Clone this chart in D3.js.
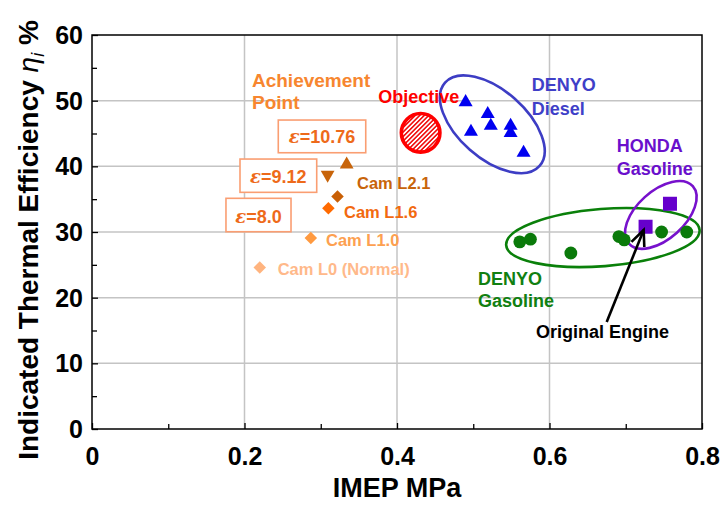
<!DOCTYPE html>
<html>
<head>
<meta charset="utf-8">
<script src="https://cdn.jsdelivr.net/npm/d3@7"></script>
<style>
  html, body { margin: 0; padding: 0; background: #fff; }
  svg { display: block; font-family: "Liberation Sans", Arial, sans-serif; font-weight: bold; }
</style>
</head>
<body>
<svg id="chart" width="722" height="507"></svg>
<script>
// ---- axis ticks ----
const xTicks = [0, 0.2, 0.4, 0.6, 0.8];
const xMinorTicks = [0.1, 0.3, 0.5, 0.7];
const yTicks = [0, 10, 20, 30, 40, 50, 60];
const yMinorTicks = [5, 15, 25, 35, 45, 55];

// ---- achievement points (cam lift / compression ratio variants) ----
const camNames = ["Cam L0 (Normal)", "Cam L1.0", "Cam L1.6", "Cam L2.1", "Cam L2.1", "Cam L2.1"];
const camImep  = [0.220, 0.287, 0.310, 0.322, 0.309, 0.334];
const camEff   = [24.6, 29.1, 33.6, 35.4, 38.5, 40.5];
const compressionRatios = ["10.76", "9.12", "8.0"];

// ---- objective ----
const objectiveImep = [0.431];
const objectiveEff  = [45.1];

// ---- DENYO diesel ----
const dieselImep = [0.490, 0.519, 0.497, 0.523, 0.549, 0.549, 0.566];
const dieselEff  = [50.0, 48.2, 45.5, 46.4, 46.4, 45.3, 42.3];

// ---- DENYO gasoline ----
const denyoGasImep = [0.561, 0.575, 0.628, 0.691, 0.698, 0.747, 0.780];
const denyoGasEff  = [28.5, 28.9, 26.8, 29.3, 28.8, 30.0, 30.0];

// ---- HONDA gasoline ----
const hondaImep = [0.726, 0.758];
const hondaEff  = [30.8, 34.3];

// ---- layout ----
const plotLeft = 92, plotRight = 702, plotTop = 35, plotBottom = 429;

const svg = d3.select("#chart");
const x = d3.scaleLinear().domain([0, 0.8]).range([plotLeft, plotRight]);
const y = d3.scaleLinear().domain([0, 60]).range([plotBottom, plotTop]);

// hatch fill for the objective circle
const defs = svg.append("defs");
const pat = defs.append("pattern")
  .attr("id", "hatch").attr("patternUnits", "userSpaceOnUse")
  .attr("width", 3.2).attr("height", 3.2)
  .attr("patternTransform", "rotate(45)");
pat.append("rect").attr("width", 3.2).attr("height", 3.2).attr("fill", "#fff");
pat.append("line").attr("x1", 0.8).attr("y1", 0).attr("x2", 0.8).attr("y2", 3.2)
  .attr("stroke", "#f01010").attr("stroke-width", 1.6);

// ---- grid ----
const grid = svg.append("g").attr("stroke", "#c4c4c4").attr("stroke-width", 1.5);
grid.selectAll("line.h").data(yTicks.filter(v => v > 0 && v < 60)).join("line")
  .attr("x1", plotLeft).attr("x2", plotRight).attr("y1", d => y(d)).attr("y2", d => y(d));
grid.selectAll("line.v").data(xTicks.filter(v => v > 0 && v < 0.8)).join("line")
  .attr("y1", plotTop).attr("y2", plotBottom).attr("x1", d => x(d)).attr("x2", d => x(d));

// ---- axes (ticks pointing inward) ----
const xAxis = svg.append("g").attr("transform", `translate(0,${plotBottom})`)
  .call(d3.axisBottom(x).tickValues(xTicks).tickSize(-6).tickPadding(18)
    .tickFormat(d => d === 0 ? "0" : d3.format(".1f")(d)));
svg.append("g").attr("transform", `translate(0,${plotBottom})`)
  .call(d3.axisBottom(x).tickValues(xMinorTicks).tickSize(-5).tickFormat(""))
  .call(g => g.select(".domain").remove());
const yAxis = svg.append("g").attr("transform", `translate(${plotLeft},0)`)
  .call(d3.axisLeft(y).tickValues(yTicks).tickSize(-6).tickPadding(9));
svg.append("g").attr("transform", `translate(${plotLeft},0)`)
  .call(d3.axisLeft(y).tickValues(yMinorTicks).tickSize(-5).tickFormat(""))
  .call(g => g.select(".domain").remove());

svg.selectAll(".tick line").attr("stroke", "#000").attr("stroke-width", 1.3);
svg.selectAll(".domain").remove();
xAxis.selectAll("text").attr("font-size", 25).attr("font-family", "Liberation Sans, Arial, sans-serif")
  .attr("font-weight", "bold").attr("fill", "#000");
yAxis.selectAll("text").attr("font-size", 25).attr("font-family", "Liberation Sans, Arial, sans-serif")
  .attr("font-weight", "bold").attr("fill", "#000").attr("dy", "0.34em");

// plot frame
svg.append("rect").attr("x", plotLeft).attr("y", plotTop)
  .attr("width", plotRight - plotLeft).attr("height", plotBottom - plotTop)
  .attr("fill", "none").attr("stroke", "#000").attr("stroke-width", 1.5);

// axis titles
svg.append("text").attr("x", (plotLeft + plotRight) / 2).attr("y", 497)
  .attr("text-anchor", "middle").attr("font-size", 27).attr("fill", "#000")
  .text("IMEP MPa");
const yt = svg.append("text")
  .attr("transform", `translate(38,240) rotate(-90)`)
  .attr("text-anchor", "middle").attr("font-size", 28).attr("fill", "#000");
yt.append("tspan").text("Indicated Thermal Efficiency ");
yt.append("tspan").attr("font-style", "italic").attr("font-weight", "normal").text("η");
yt.append("tspan").attr("font-style", "italic").attr("font-weight", "normal")
  .attr("font-size", 18).attr("dy", 6).text("i");
yt.append("tspan").attr("dy", -6).text(" %");

// ---- grouping ellipses (centres through the scales) ----
function ellipse(cxv, cyv, rx, ry, angle, color) {
  const cx = x(cxv), cy = y(cyv);
  svg.append("ellipse").attr("cx", cx).attr("cy", cy).attr("rx", rx).attr("ry", ry)
    .attr("transform", `rotate(${angle},${cx},${cy})`)
    .attr("fill", "none").attr("stroke", color).attr("stroke-width", 2.6);
}
ellipse(0.525, 46.4, 63, 34, 41.4, "#3d3dc4");
ellipse(0.670, 29.15, 97, 28.6, -4.5, "#0a800a");
ellipse(0.746, 32.6, 43, 24, -42, "#7711cc");

// ---- markers ----
const sym = (type, size) => d3.symbol().type(type).size(size)();

// DENYO diesel: blue triangles
svg.append("g").selectAll("path").data(d3.range(dieselImep.length)).join("path")
  .attr("d", sym(d3.symbolTriangle, 85))
  .attr("transform", i => `translate(${x(dieselImep[i])},${y(dieselEff[i]) + 1.5})`)
  .attr("fill", "#0000f0");

// DENYO gasoline: green circles
svg.append("g").selectAll("circle").data(d3.range(denyoGasImep.length)).join("circle")
  .attr("cx", i => x(denyoGasImep[i])).attr("cy", i => y(denyoGasEff[i]))
  .attr("r", 6.4).attr("fill", "#0a7a0a");

// HONDA gasoline: purple squares
svg.append("g").selectAll("rect").data(d3.range(hondaImep.length)).join("rect")
  .attr("x", i => x(hondaImep[i]) - 7).attr("y", i => y(hondaEff[i]) - 7)
  .attr("width", 14).attr("height", 14).attr("fill", "#6600cc");

// achievement points: diamonds and triangles
const camShape = ["diamond", "diamond", "diamond", "diamond", "down", "up"];
const camColor = ["#ffb47f", "#ff9a40", "#ff6a00", "#c95f05", "#c8640a", "#c8640a"];
svg.append("g").selectAll("path").data(d3.range(camImep.length)).join("path")
  .attr("d", i => camShape[i] === "diamond" ? sym(d3.symbolSquare, 78) : sym(d3.symbolTriangle, 82))
  .attr("transform", i => {
    const px = x(camImep[i]), py = y(camEff[i]);
    if (camShape[i] === "diamond") return `translate(${px},${py}) rotate(45)`;
    if (camShape[i] === "down") return `translate(${px},${py - 1.5}) rotate(180)`;
    return `translate(${px},${py + 1.5})`;
  })
  .attr("fill", i => camColor[i]);

// objective circle
svg.append("circle")
  .attr("cx", x(objectiveImep[0])).attr("cy", y(objectiveEff[0]))
  .attr("r", 19.3).attr("fill", "url(#hatch)")
  .attr("stroke", "#ff0000").attr("stroke-width", 3.6);

// ---- annotation text ----
function label(xv, yv, txt, color, size, anchor) {
  return svg.append("text").attr("x", x(xv)).attr("y", y(yv))
    .attr("fill", color).attr("font-size", size)
    .attr("text-anchor", anchor || "start").text(txt);
}
label(0.2098, 52.13, "Achievement", "#f7862f", 19);
label(0.2098, 48.68, "Point", "#f7862f", 19);
label(0.3755, 49.60, "Objective", "#ff0000", 18);

label(0.5767, 51.47, "DENYO", "#3f3fc8", 18);
label(0.5767, 47.81, "Diesel", "#3f3fc8", 18);
label(0.6881, 42.23, "HONDA", "#6a0fcc", 18);
label(0.6881, 38.68, "Gasoline", "#6a0fcc", 18);
label(0.5062, 21.93, "DENYO", "#118011", 18);
label(0.5062, 18.53, "Gasoline", "#118011", 18);

// cam labels
const camLabelPos = [[0.2435, 23.45, "#ffb98a"], [0.3069, 27.87, "#fda050"],
                     [0.3305, 32.08, "#f2690f"], [0.3475, 36.50, "#c8640a"]];
camLabelPos.forEach((p, k) => {
  label(p[0], p[1], camNames[k], p[2], 16.5);
});

// compression-ratio boxes
const boxes = [
  { x0: 0.2443, x1: 0.3590, y0: 47.05, y1: 42.07, ty: 43.5 },
  { x0: 0.1941, x1: 0.2947, y0: 41.11, y1: 36.04, ty: 37.41 },
  { x0: 0.1757, x1: 0.2610, y0: 35.13, y1: 30.04, ty: 31.41 }
];
boxes.forEach((b, k) => {
  svg.append("rect").attr("x", x(b.x0)).attr("y", y(b.y0))
    .attr("width", x(b.x1) - x(b.x0)).attr("height", y(b.y1) - y(b.y0))
    .attr("fill", "#fff").attr("stroke", "#fa9e72").attr("stroke-width", 1.6);
  const t = svg.append("text").attr("x", (x(b.x0) + x(b.x1)) / 2).attr("y", y(b.ty))
    .attr("text-anchor", "middle").attr("fill", "#ee6a1a").attr("font-size", 18);
  t.append("tspan").attr("font-style", "italic").attr("font-family", "DejaVu Serif, serif").text("ε");
  t.append("tspan").text("=" + compressionRatios[k]);
});

// original engine arrow
const tail = [x(0.675), y(16.3)], tip = [x(0.7235), y(30.3)];
svg.append("line").attr("x1", tail[0]).attr("y1", tail[1]).attr("x2", tip[0]).attr("y2", tip[1])
  .attr("stroke", "#000").attr("stroke-width", 2.6);
const ang = Math.atan2(tip[1] - tail[1], tip[0] - tail[0]);
const arm = 17, spread = 0.42;
const a1 = [tip[0] - arm * Math.cos(ang - spread), tip[1] - arm * Math.sin(ang - spread)];
const a2 = [tip[0] - arm * Math.cos(ang + spread), tip[1] - arm * Math.sin(ang + spread)];
svg.append("path").attr("d", d3.line()([a1, tip, a2]))
  .attr("fill", "none").attr("stroke", "#000").attr("stroke-width", 2.6);
label(0.5823, 13.86, "Original Engine", "#000", 18);
</script>
</body>
</html>
